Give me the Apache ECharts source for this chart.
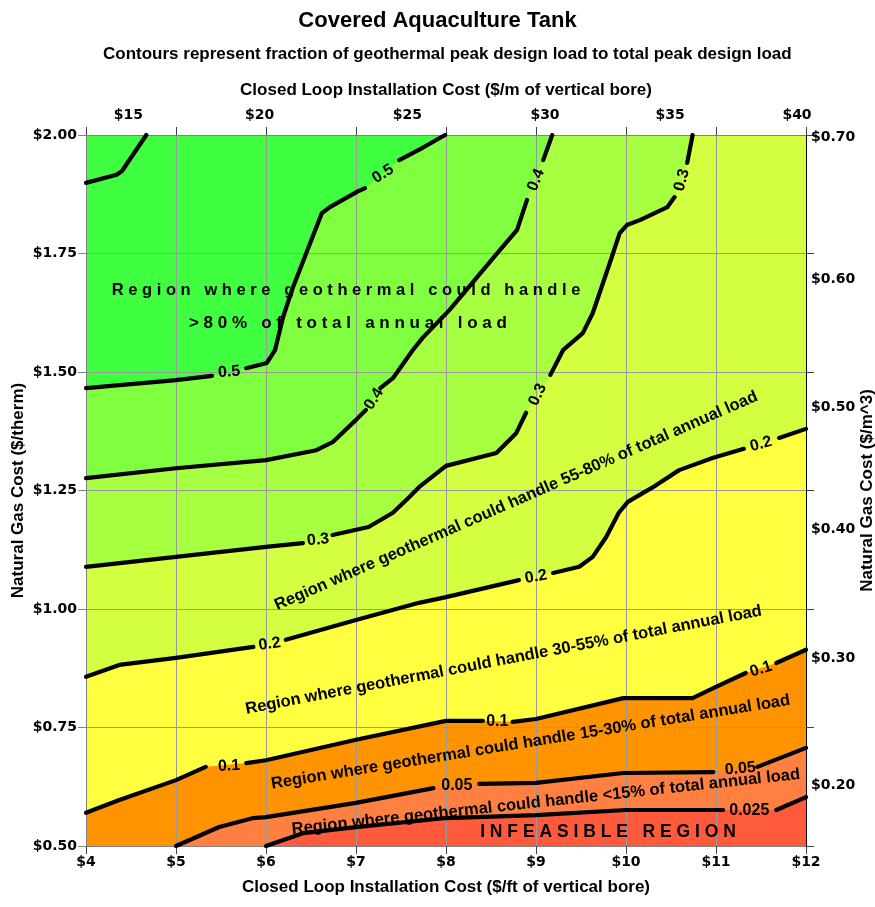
<!DOCTYPE html>
<html><head><meta charset="utf-8">
<script src="https://cdn.jsdelivr.net/npm/echarts@6/dist/echarts.min.js"></script>
<style>html,body{margin:0;padding:0;background:#fff;overflow:hidden}#c{width:875px;height:907px}</style>
</head><body><div id="c"></div>
<script>
// ---- axis extents & ticks ----
const X_MIN = 4, X_MAX = 12, Y_MIN = 0.5, Y_MAX = 2.0;
const bottomTicks = [4, 5, 6, 7, 8, 9, 10, 11, 12];
const leftTicks = [0.5, 0.75, 1.0, 1.25, 1.5, 1.75, 2.0];
const topLabelPos = [4.47, 5.93, 7.57, 9.1, 10.49, 11.9];
const topLabels = ['$15', '$20', '$25', '$30', '$35', '$40'];
const rightLabelPos = [1.994, 1.695, 1.425, 1.167, 0.895, 0.627];
const rightLabels = ['$0.70', '$0.60', '$0.50', '$0.40', '$0.30', '$0.20'];

// ---- contour lines (x = $/ft, y = $/therm); null = gap for inline label ----
const c060X = [4, 4.34, 4.4, 4.67];
const c060Y = [1.899, 1.916, 1.924, 2.0];
const c050X = [4, 5, 5.4, null, 5.78, 6.01, 6.1, 6.19, 6.3, 6.46, 6.62, 6.71, 7.01, 7.1, null, 7.48, 7.74, 7.99];
const c050Y = [1.466, 1.483, 1.492, null, 1.508, 1.519, 1.546, 1.616, 1.679, 1.757, 1.835, 1.848, 1.880, 1.888, null, 1.947, 1.973, 2.0];
const c040X = [4, 5, 6, 6.56, 6.74, 7.0, 7.11, null, 7.27, 7.41, 7.63, 7.74, 8.04, 8.57, 8.79, 8.9, null, 9.08, 9.18];
const c040Y = [1.276, 1.297, 1.314, 1.335, 1.352, 1.399, 1.420, null, 1.466, 1.487, 1.546, 1.572, 1.631, 1.751, 1.800, 1.863, null, 1.947, 2.0];
const c030X = [4, 5, 6, 6.41, null, 6.74, 7.14, 7.41, 7.59, 7.7, 8, 8.56, 8.78, 8.89, null, 9.16, 9.3, 9.52, 9.63, 9.82, 9.93, 10.01, 10.16, 10.46, 10.54, null, 10.68, 10.74];
const c030Y = [1.089, 1.110, 1.131, 1.139, null, 1.156, 1.173, 1.203, 1.236, 1.257, 1.302, 1.329, 1.371, 1.414, null, 1.494, 1.546, 1.582, 1.624, 1.730, 1.793, 1.810, 1.821, 1.848, 1.869, null, 1.941, 2.0];
const c020X = [4, 4.37, 5, 5.86, null, 6.22, 7, 7.7, 8, 8.81, null, 9.19, 9.48, 9.63, 9.78, 9.92, 10.02, 10.3, 10.59, 10.97, 11.31, null, 11.7, 12];
const c020Y = [0.857, 0.882, 0.897, 0.920, null, 0.935, 0.977, 1.013, 1.025, 1.061, null, 1.076, 1.089, 1.110, 1.152, 1.203, 1.226, 1.257, 1.293, 1.319, 1.338, null, 1.361, 1.380];
const c010X = [4, 4.37, 5, 5.33, null, 5.78, 6, 7, 8, 8.41, null, 8.74, 9, 9.97, 10.74, 10.97, 11.33, null, 11.67, 12];
const c010Y = [0.570, 0.597, 0.639, 0.667, null, 0.675, 0.681, 0.724, 0.764, 0.764, null, 0.762, 0.768, 0.812, 0.812, 0.833, 0.865, null, 0.886, 0.914];
const c005X = [5, 5.48, 5.86, 6, 7, 7.86, null, 8.37, 9, 9.97, 10.97, null, 11.46, 12];
const c005Y = [0.5, 0.540, 0.559, 0.561, 0.591, 0.622, null, 0.631, 0.633, 0.654, 0.656, null, 0.667, 0.707];
const c0025X = [6, 6.41, 7, 8, 9, 10, 11.08, null, 11.67, 12];
const c0025Y = [0.5, 0.527, 0.540, 0.559, 0.565, 0.576, 0.576, null, 0.576, 0.603];

// ---- inline contour labels ----
const lblText = ['0.5', '0.5', '0.4', '0.4', '0.3', '0.3', '0.3', '0.2', '0.2', '0.2', '0.1', '0.1', '0.1', '0.05', '0.05', '0.025'];
const lblX = [5.59, 7.3, 7.2, 9.0, 6.58, 9.02, 10.62, 6.04, 9.0, 11.5, 5.59, 8.57, 11.5, 8.12, 11.27, 11.37];
const lblY = [1.500, 1.918, 1.443, 1.905, 1.146, 1.452, 1.905, 0.926, 1.068, 1.348, 0.669, 0.762, 0.873, 0.627, 0.663, 0.574];
const lblRot = [5, 32, 58, 68, 6, 65, 75, 8, 10, 15, 3, 0, 18, 0, 5, 0];

// ---- region annotations ----
const annText = [
  'R e g i o n   w h e r e   g e o t h e r m a l   c o u l d   h a n d l e',
  '> 8 0 %   o f   t o t a l   a n n u a l   l o a d',
  'Region where geothermal could handle 55-80% of total annual load',
  'Region where geothermal could handle 30-55% of total annual load',
  'Region where geothermal could handle 15-30% of total annual load',
  'Region where geothermal could handle <15% of total annual load',
  'I N F E A S I B L E   R E G I O N'
];
const annX = [6.89, 6.91, 8.78, 8.64, 8.94, 9.11, 9.8];
const annY = [1.673, 1.603, 1.228, 0.892, 0.719, 0.593, 0.530];
const annRot = [0, 0, 23.6, 10.8, 9.2, 6.2, 0];
const annSize = [16.5, 17, 16.5, 16.5, 16.5, 16.5, 17.5];

// ---- colours ----
const COL_INFEASIBLE = '#FF5A3C';
const contours = [
  { x: c0025X, y: c0025Y, fill: '#FF8040', startBottom: true, endRight: true },
  { x: c005X, y: c005Y, fill: '#FF9400', startBottom: true, endRight: true },
  { x: c010X, y: c010Y, fill: '#FFFF40', startBottom: false, endRight: true },
  { x: c020X, y: c020Y, fill: '#D4FF40', startBottom: false, endRight: true },
  { x: c030X, y: c030Y, fill: '#A6FF40', startBottom: false, endRight: false },
  { x: c040X, y: c040Y, fill: '#80FF40', startBottom: false, endRight: false },
  { x: c050X, y: c050Y, fill: '#40FF40', startBottom: false, endRight: false }
];
const extraLines = [{ x: c060X, y: c060Y }];

function polyPts(c) {
  const pts = [];
  for (let i = 0; i < c.x.length; i++) if (c.x[i] != null) pts.push([c.x[i], c.y[i]]);
  if (c.endRight) pts.push([X_MAX, Y_MAX]);
  pts.push([X_MIN, Y_MAX]);
  if (c.startBottom) pts.push([X_MIN, Y_MIN]);
  return pts;
}

const FONT = 'Liberation Sans';
const series = [];
series.push({
  type: 'custom', z: 1, silent: true, data: [[X_MIN, Y_MIN]],
  renderItem: (p, api) => ({
    type: 'polygon',
    shape: { points: [[X_MIN, Y_MIN], [X_MAX, Y_MIN], [X_MAX, Y_MAX], [X_MIN, Y_MAX]].map(q => api.coord(q)) },
    style: { fill: COL_INFEASIBLE }
  })
});
contours.forEach(c => series.push({
  type: 'custom', z: 1, silent: true, data: [[X_MIN, Y_MIN]],
  renderItem: (p, api) => ({
    type: 'polygon',
    shape: { points: polyPts(c).map(q => api.coord(q)) },
    style: { fill: c.fill }
  })
}));
contours.concat(extraLines).forEach(c => series.push({
  type: 'line', z: 3, silent: true, symbol: 'none', showSymbol: false,
  data: c.x.map((x, i) => x == null ? ['-', '-'] : [x, c.y[i]]),
  lineStyle: { color: '#000', width: 4.2, cap: 'round', join: 'round' }
}));
series.push({
  type: 'custom', z: 4, silent: true,
  data: lblX.map((x, i) => [x, lblY[i]]),
  renderItem: (p, api) => {
    const i = p.dataIndex;
    const pt = api.coord([lblX[i], lblY[i]]);
    return {
      type: 'text', x: pt[0], y: pt[1], rotation: lblRot[i] * Math.PI / 180,
      style: { text: lblText[i], fill: '#000', fontFamily: FONT, fontWeight: 'bold', fontSize: 16,
        align: 'center', verticalAlign: 'middle', textAlign: 'center', textVerticalAlign: 'middle' }
    };
  }
});
series.push({
  type: 'custom', z: 4, silent: true,
  data: annX.map((x, i) => [x, annY[i]]),
  renderItem: (p, api) => {
    const i = p.dataIndex;
    const pt = api.coord([annX[i], annY[i]]);
    return {
      type: 'text', x: pt[0], y: pt[1], rotation: annRot[i] * Math.PI / 180,
      style: { text: annText[i], fill: '#000', fontFamily: FONT, fontWeight: 'bold', fontSize: annSize[i],
        align: 'center', verticalAlign: 'middle', textAlign: 'center', textVerticalAlign: 'middle' }
    };
  }
});

function nearestLabel(v, pos, labels) {
  let best = 0;
  for (let i = 1; i < pos.length; i++) if (Math.abs(pos[i] - v) < Math.abs(pos[best] - v)) best = i;
  return labels[best];
}
const tickLabelStyle = { color: '#000', fontFamily: 'DejaVu Sans', fontWeight: 'bold', fontSize: 14 };
const nameStyle = { color: '#000', fontFamily: FONT, fontWeight: 'bold', fontSize: 17 };

const option = {
  animation: false,
  backgroundColor: '#fff',
  title: [
    { text: 'Covered Aquaculture Tank', left: 'center', top: 5,
      textStyle: { fontFamily: FONT, fontWeight: 'bold', fontSize: 22, color: '#000' } },
    { text: 'Contours represent fraction of geothermal peak design load to total peak design load', left: 98, top: 41,
      textStyle: { fontFamily: FONT, fontWeight: 'bold', fontSize: 17, color: '#000' } }
  ],
  grid: { left: 86, top: 135, right: 69, bottom: 61, containLabel: false, outerBoundsMode: 'none' },
  xAxis: [
    { type: 'value', min: X_MIN, max: X_MAX, interval: 1, position: 'bottom', z: 2,
      axisLine: { show: true, onZero: false, lineStyle: { color: '#808080', width: 1 } },
      axisTick: { show: true, length: 8, customValues: bottomTicks, lineStyle: { color: '#404040' } },
      axisLabel: { ...tickLabelStyle, margin: 9, formatter: v => '$' + v },
      splitLine: { show: true, lineStyle: { color: '#999999', width: 1 } },
      name: 'Closed Loop Installation Cost ($/ft of vertical bore)', nameLocation: 'middle', nameGap: 33,
      nameMoveOverlap: false, nameTextStyle: nameStyle },
    { type: 'value', min: X_MIN, max: X_MAX, interval: 1, position: 'top', z: 2,
      axisLine: { show: true, onZero: false, lineStyle: { color: '#808080', width: 1 } },
      axisTick: { show: true, length: 8, customValues: bottomTicks, lineStyle: { color: '#404040' } },
      axisLabel: { ...tickLabelStyle, margin: 13, customValues: topLabelPos, formatter: v => nearestLabel(v, topLabelPos, topLabels) },
      splitLine: { show: false },
      name: 'Closed Loop Installation Cost ($/m of vertical bore)', nameLocation: 'middle', nameGap: 36,
      nameMoveOverlap: false, nameTextStyle: nameStyle }
  ],
  yAxis: [
    { type: 'value', min: Y_MIN, max: Y_MAX, interval: 0.25, position: 'left', z: 2,
      axisLine: { show: true, onZero: false, lineStyle: { color: '#808080', width: 1 } },
      axisTick: { show: true, length: 8, customValues: leftTicks, lineStyle: { color: '#808080' } },
      axisLabel: { ...tickLabelStyle, margin: 9, formatter: v => '$' + v.toFixed(2) },
      splitLine: { show: true, lineStyle: { color: '#999999', width: 1 } },
      name: 'Natural Gas Cost ($/therm)', nameLocation: 'middle', nameGap: 59,
      nameMoveOverlap: false, nameTextStyle: nameStyle },
    { type: 'value', min: Y_MIN, max: Y_MAX, interval: 0.25, position: 'right', z: 2,
      axisLine: { show: true, onZero: false, lineStyle: { color: '#000', width: 1 } },
      axisTick: { show: true, length: 8, customValues: leftTicks, lineStyle: { color: '#404040' } },
      axisLabel: { ...tickLabelStyle, margin: 5, customValues: rightLabelPos, formatter: v => nearestLabel(v, rightLabelPos, rightLabels) },
      splitLine: { show: false },
      name: 'Natural Gas Cost ($/m^3)', nameLocation: 'middle', nameGap: 53, nameRotate: 90,
      nameMoveOverlap: false, nameTextStyle: nameStyle }
  ],
  series: series
};
const chart = echarts.init(document.getElementById('c'), null, { renderer: 'canvas' });
chart.setOption(option);
</script>
</body></html>
